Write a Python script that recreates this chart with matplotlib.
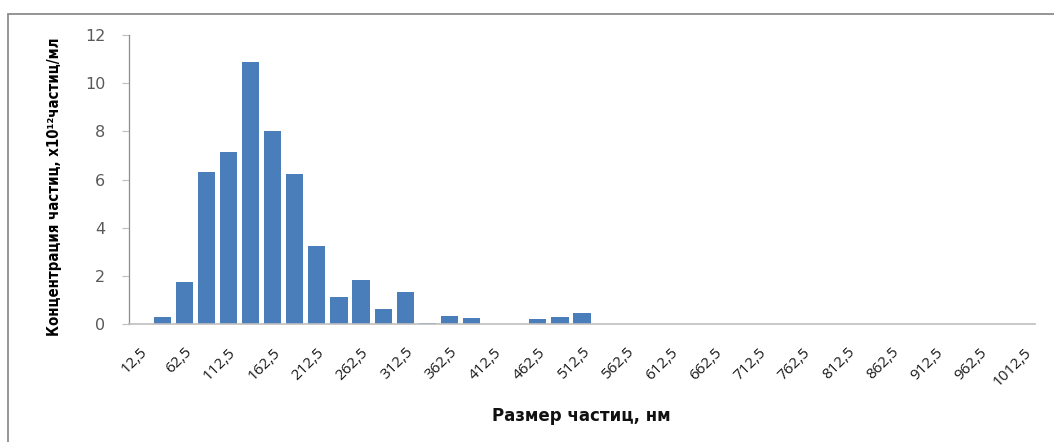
import matplotlib
matplotlib.use("Agg")
import matplotlib.pyplot as plt
from matplotlib.patches import Rectangle

# Particle size bins (nm) and concentrations (x10^12 particles/ml)
sizes = [12.5 + 25 * i for i in range(41)]
concentration = [
    0.0, 0.30, 1.76, 6.32, 7.14, 10.87, 8.02, 6.22, 3.25, 1.13,
    1.82, 0.62, 1.34, 0.03, 0.33, 0.25, 0.02, 0.02, 0.20, 0.29,
    0.44, 0.02, 0.0, 0.0, 0.02, 0.0, 0.0, 0.0, 0.0, 0.0,
    0.0, 0.0, 0.0, 0.0, 0.0, 0.0, 0.0, 0.0, 0.0, 0.0, 0.0,
]
size_labels = [f"{s:g}".replace(".", ",") for s in sizes]
y_ticks = [0, 2, 4, 6, 8, 10, 12]

W, H = 1054, 442
fig = plt.figure(figsize=(W / 100, H / 100), dpi=100)
fig.patch.set_facecolor("white")

# chart-area frame
fig.patches.append(Rectangle((8 / W, -0.1), 1.2, (H - 14) / H + 0.1,
                             transform=fig.transFigure, fill=False,
                             edgecolor="#8c8c8c", linewidth=1.3))

ax = fig.add_axes([129 / W, 1 - 324 / H, (1035 - 129) / W, (324 - 35) / H])
x = list(range(len(sizes)))
ax.bar(x, concentration, width=0.78, color="#4a7ebb", edgecolor="none", zorder=2)

ax.set_xlim(-0.5, len(sizes) - 0.5)
ax.set_ylim(0, 12)
ax.set_yticks(y_ticks)
ax.set_yticklabels([str(t) for t in y_ticks], fontsize=11.5, color="#595959",
                   family="DejaVu Sans")
ax.tick_params(axis="y", length=5, width=0.8, color="#bfbfbf", pad=12)

ax.set_xticks(x[::2])
ax.set_xticklabels(size_labels[::2], rotation=45, ha="right",
                   rotation_mode="anchor", fontsize=11, color="#1a1a1a",
                   family=["Open Sans", "DejaVu Sans"])
ax.tick_params(axis="x", length=0, pad=15)

for side in ("top", "right"):
    ax.spines[side].set_visible(False)
ax.spines["left"].set_color("#8c8c8c")
ax.spines["left"].set_linewidth(0.9)
ax.spines["bottom"].set_color("#bfbfbf")
ax.spines["bottom"].set_linewidth(1.2)

fig.text(55 / W, 1 - 187 / H, "Концентрация частиц, х10¹²частиц/мл",
         rotation=90, ha="center", va="center", fontsize=10.7,
         fontweight="bold", stretch="condensed",
         family=["Liberation Sans Narrow", "DejaVu Sans Condensed", "DejaVu Sans"])
fig.text(581 / W, 1 - 416 / H, "Размер частиц, нм", ha="center", va="center",
         fontsize=12, fontweight="bold", color="#111111",
         family=["DejaVu Sans"])

fig.savefig("out.png", dpi=100, facecolor="white")
